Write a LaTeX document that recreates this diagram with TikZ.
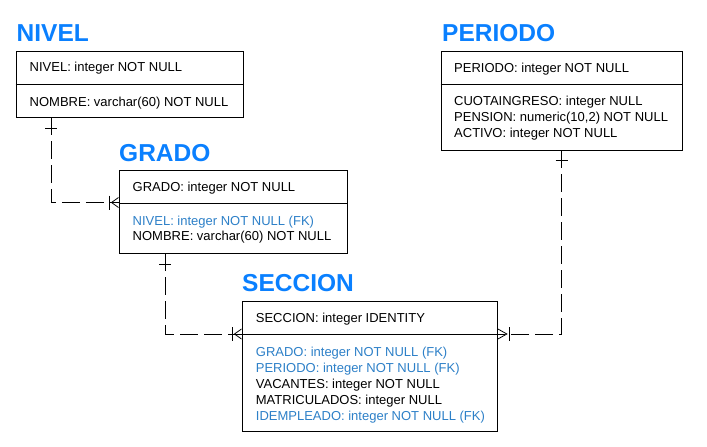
\documentclass[tikz,border=0pt]{standalone}
\usepackage{fontspec}
\setmainfont{Liberation Sans}
\definecolor{titleblue}{RGB}{10,128,255}
\definecolor{fkblue}{RGB}{45,128,200}
\tikzset{
  entity/.style={draw=black, line width=0.9pt, rectangle, anchor=north west, inner sep=0pt},
  etitle/.style={anchor=base west, inner sep=0pt, text=titleblue, font=\fontsize{24.5}{27}\selectfont\bfseries},
  attr/.style={anchor=base west, inner sep=0pt, font=\fontsize{13}{15}\selectfont},
  fk/.style={attr, text=fkblue},
  rel/.style={line width=0.9pt, dash pattern=on 18pt off 6pt},
  relmark/.style={line width=0.8pt},
}
\begin{document}
\begin{tikzpicture}[x=1pt,y=-1pt]
\useasboundingbox (0,0) rectangle (707,447);
\fill[white] (0,0) rectangle (707,447);

% ---------- NIVEL ----------
\node[etitle] (tnivel) at (16.5,41.7) {NIVEL};
\node[entity, minimum width=227pt, minimum height=66pt] (nivel) at (15.5,50.5) {};
\draw[line width=0.9pt] ([yshift=-34pt]nivel.north west) -- ([yshift=-34pt]nivel.north east);
\node[attr] (n1) at (29.5,71.8) {NIVEL: integer NOT NULL};
\node[attr] (n2) at (29.5,106.5) {NOMBRE: varchar(60) NOT NULL};

% ---------- GRADO ----------
\node[etitle] (tgrado) at (119,161) {GRADO};
\node[entity, minimum width=228pt, minimum height=83pt] (grado) at (118.5,169.5) {};
\draw[line width=0.9pt] ([yshift=-34pt]grado.north west) -- ([yshift=-34pt]grado.north east);
\coordinate (gdiv) at ([yshift=-33pt]grado.north west);
\node[attr] (g1) at (132.5,191) {GRADO: integer NOT NULL};
\node[fk] (g2) at (132.5,225) {NIVEL: integer NOT NULL (FK)};
\node[attr] (g3) at (132.5,240.5) {NOMBRE: varchar(60) NOT NULL};

% ---------- SECCION ----------
\node[etitle] (tseccion) at (242,291.7) {SECCION};
\node[entity, minimum width=255.5pt, minimum height=130pt] (seccion) at (241.5,301) {};
\draw[line width=0.9pt] ([yshift=-33pt]seccion.north west) -- ([yshift=-33pt]seccion.north east);
\coordinate (sdivw) at ([yshift=-33pt]seccion.north west);
\coordinate (sdive) at ([yshift=-33pt]seccion.north east);
\node[attr] (s1) at (255.7,322.3) {SECCION: integer IDENTITY};
\node[fk] (s2) at (255.7,356.5) {GRADO: integer NOT NULL (FK)};
\node[fk] (s3) at (255.7,372) {PERIODO: integer NOT NULL (FK)};
\node[attr] (s4) at (255.7,388) {VACANTES: integer NOT NULL};
\node[attr] (s5) at (255.7,404) {MATRICULADOS: integer NULL};
\node[fk] (s6) at (255.7,420) {IDEMPLEADO: integer NOT NULL (FK)};

% ---------- PERIODO ----------
\node[etitle] (tperiodo) at (442,41.7) {PERIODO};
\node[entity, minimum width=241pt, minimum height=99pt] (periodo) at (440.5,50.5) {};
\draw[line width=0.9pt] ([yshift=-34pt]periodo.north west) -- ([yshift=-34pt]periodo.north east);
\node[attr] (p1) at (454,72.3) {PERIODO: integer NOT NULL};
\node[attr] (p2) at (454,105.7) {CUOTAINGRESO: integer NULL};
\node[attr] (p3) at (454,121.7) {PENSION: numeric(10,2) NOT NULL};
\node[attr] (p4) at (454,137.7) {ACTIVO: integer NOT NULL};

% ---------- Relationships ----------
% NIVEL -> GRADO
\coordinate (r1) at ([xshift=35.5pt]nivel.south west);
\draw[rel] (r1) |- (gdiv);
\draw[relmark] ([xshift=-6pt,yshift=-10.5pt]r1) -- ([xshift=6pt,yshift=-10.5pt]r1);
\draw[relmark] ([xshift=-9.5pt,yshift=7pt]gdiv) -- ([xshift=-9.5pt,yshift=-7pt]gdiv);
\draw[relmark] ([yshift=5pt]gdiv) -- ([xshift=-7pt]gdiv) -- ([yshift=-5pt]gdiv);

% GRADO -> SECCION
\coordinate (r2) at ([xshift=46.5pt]grado.south west);
\draw[rel] (r2) |- (sdivw);
\draw[relmark] ([xshift=-6pt,yshift=-10.5pt]r2) -- ([xshift=6pt,yshift=-10.5pt]r2);
\draw[relmark] ([xshift=-9.5pt,yshift=7pt]sdivw) -- ([xshift=-9.5pt,yshift=-7pt]sdivw);
\draw[relmark] ([yshift=5pt]sdivw) -- ([xshift=-7pt]sdivw) -- ([yshift=-5pt]sdivw);

% PERIODO -> SECCION
\coordinate (r3) at ([xshift=121pt]periodo.south west);
\draw[rel] (r3) |- (sdive);
\draw[relmark] ([xshift=-6pt,yshift=-10pt]r3) -- ([xshift=6pt,yshift=-10pt]r3);
\draw[relmark] ([xshift=11pt,yshift=7pt]sdive) -- ([xshift=11pt,yshift=-7pt]sdive);
\draw[relmark] ([yshift=5pt]sdive) -- ([xshift=9pt]sdive) -- ([yshift=-5pt]sdive);
\end{tikzpicture}
\end{document}
